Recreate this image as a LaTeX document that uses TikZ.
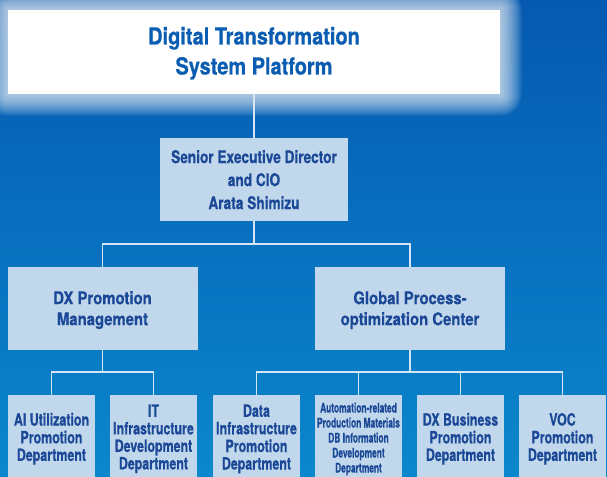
\documentclass[tikz,border=0pt]{standalone}
\usepackage{fontspec}
\newfontfamily\ftitle{TeX Gyre Heros}[FakeStretch=0.85,FakeBold=0.6]
\newfontfamily\fsen{TeX Gyre Heros}[FakeStretch=0.78,FakeBold=0.5]
\newfontfamily\fmid{TeX Gyre Heros}[FakeStretch=0.85,FakeBold=0.5]
\newfontfamily\fbot{TeX Gyre Heros}[FakeStretch=0.73,FakeBold=0.5]
\newfontfamily\fsmall{TeX Gyre Heros}[FakeStretch=0.63,FakeBold=0.4]
\definecolor{bgtop}{HTML}{0659B0}
\definecolor{bgbot}{HTML}{0A87CD}
\definecolor{boxfill}{HTML}{C1D7EC}
\definecolor{textdark}{HTML}{1B4896}
\definecolor{titlecol}{HTML}{0A5DB1}
\definecolor{linecol}{HTML}{D5E5F3}
\newcommand\lowered[2]{\raisebox{-#1}[\height][\depth]{\begin{tabular}{@{}c@{}}#2\end{tabular}}}
\begin{document}
\begin{tikzpicture}[x=1pt,y=-1pt,
  orgbox/.style={rectangle,fill=boxfill,inner sep=0pt,align=center,text=textdark},
  titlebox/.style={rectangle,fill=white,inner sep=0pt,align=center,text=titlecol,
    minimum width=492pt,minimum height=84pt,
    font={\ftitle\bfseries\fontsize{23.5}{30}\selectfont}},
  senbox/.style={orgbox,minimum width=188pt,minimum height=83pt,
    font={\fsen\bfseries\fontsize{17.5}{23}\selectfont}},
  midbox/.style={orgbox,minimum width=190pt,minimum height=83pt,
    font={\fmid\bfseries\fontsize{17.5}{21}\selectfont}},
  botbox/.style={orgbox,minimum width=87pt,minimum height=84pt,
    font={\fbot\bfseries\fontsize{17}{17}\selectfont}},
  smallbox/.style={botbox,font={\fsmall\bfseries\fontsize{13.3}{15}\selectfont}},
  conn/.style={draw=linecol,line width=1.3pt}]
\useasboundingbox (0,0) rectangle (607,476);
\clip (0,0) rectangle (607,476);
% background
\shade[top color=bgtop,bottom color=bgbot] (0,0) rectangle (607,476);
% glow around the title box
\foreach \i in {1,...,22}{
  \fill[white,opacity=0.05,rounded corners=\i pt] (8-\i,10-\i) rectangle (500+\i,94+\i);
}
% nodes
\node[titlebox] (top) at (254,52) {\lowered{1.5pt}{Digital Transformation\\System Platform}};
\node[senbox] (sen) at (254,179.5) {\lowered{2pt}{Senior Executive Director\\and CIO\\Arata Shimizu}};
\node[midbox] (dx) at (102.5,308.5) {\lowered{2pt}{DX Promotion\\Management}};
\node[midbox] (gp) at (410,308.5) {\lowered{2pt}{Global Process-\\optimization Center}};
\node[botbox] (ai) at (51.5,437) {\lowered{2.5pt}{AI Utilization\\Promotion\\Department}};
\node[botbox] (it) at (153.5,437) {\lowered{2.5pt}{IT\\Infrastructure\\Development\\Department}};
\node[botbox] (data) at (256.5,437) {\lowered{2.5pt}{Data\\Infrastructure\\Promotion\\Department}};
\node[smallbox] (auto) at (358.5,437) {\lowered{2.5pt}{Automation-related\\Production Materials\\DB Information\\Development\\Department}};
\node[botbox] (dxb) at (460.5,437) {\lowered{2.5pt}{DX Business\\Promotion\\Department}};
\node[botbox] (voc) at (562.5,437) {\lowered{2.5pt}{VOC\\Promotion\\Department}};
% bus coordinates
\coordinate (bus1) at (0,244);
\coordinate (bus2) at (0,372);
% connectors
\draw[conn] (top.south) -- (sen.north);
\draw[conn] (sen.south) -- (sen.south |- bus1) -| (dx.north);
\draw[conn] (sen.south |- bus1) -| (gp.north);
\draw[conn] (dx.south) -- (dx.south |- bus2) -| (ai.north);
\draw[conn] (dx.south |- bus2) -| (it.north);
\draw[conn] (gp.south) -- (gp.south |- bus2) -| (data.north);
\draw[conn] (gp.south |- bus2) -| (voc.north);
\draw[conn] (auto.north) -- (auto.north |- bus2);
\draw[conn] (dxb.north) -- (dxb.north |- bus2);
\end{tikzpicture}
\end{document}
